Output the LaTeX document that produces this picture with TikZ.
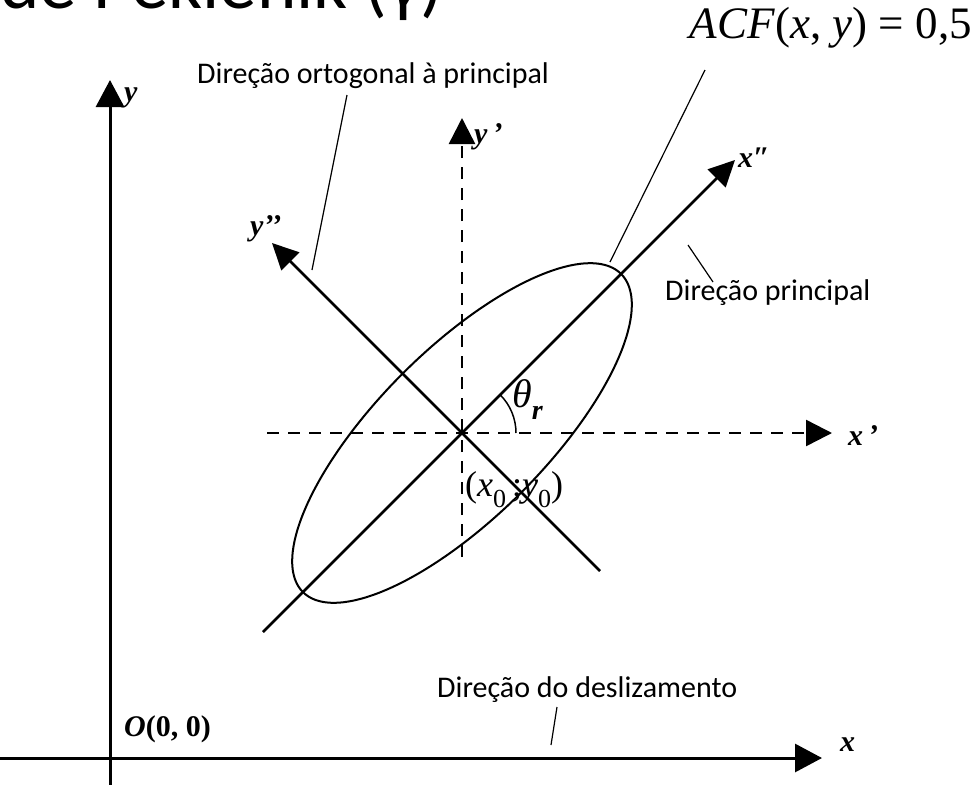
\documentclass[tikz,border=0pt]{standalone}
\usepackage{fontspec}
\usetikzlibrary{arrows.meta}
\newfontfamily\calib{Carlito}
\newfontfamily\tms{Liberation Serif}
\begin{document}
\begin{tikzpicture}[x=1pt,y=-1pt,
  axis/.style={line width=3pt,-{Triangle[length=27pt,width=28pt]}},
  daxis/.style={line width=2.5pt,dash pattern=on 12pt off 9pt,-{Triangle[length=26pt,width=26pt]}},
  raxis/.style={line width=2.5pt,-{Triangle[length=26pt,width=25pt]}},
  leader/.style={line width=1.2pt},
  lab/.style={inner sep=0pt,font=\tms\bfseries\itshape\fontsize{30}{34}\selectfont},
  note/.style={inner sep=0pt,font=\calib\fontsize{30}{34}\selectfont}]
\useasboundingbox (0,0) rectangle (978,785);
\begin{scope}
\clip (0,0) rectangle (978,785);
\node[anchor=base west,inner sep=0pt,font=\calib\fontsize{75}{80}\selectfont] (title) at (0,8) {de Peklenik (γ)};
\coordinate (C) at (462,433);
% main axes
\coordinate (yb) at (110,795);
\coordinate (yt) at (110,80);
\coordinate (xl) at (-5,758);
\coordinate (xr) at (822,758);
\draw[axis] (yb) -- (yt);
\draw[axis] (xl) -- (xr);
\node[lab,anchor=south west] (ylab) at (124,108) {y};
\node[lab,anchor=west] (xlab) at (840,745) {x};
\node[lab,anchor=base west] (olab) at (124,736) {O\upshape(0, 0)};
% dashed axes
\coordinate (ypb) at (462,557);
\coordinate (ypt) at (462,118);
\coordinate (xpl) at (267,433);
\coordinate (xpr) at (832,433);
\draw[daxis] (ypb) -- (ypt);
\draw[daxis] (xpl) -- (xpr);
\node[lab,anchor=south west] (yplab) at (474,150) {y\,’};
\node[lab,anchor=west] (xplab) at (848,436) {x\,’};
% rotated axes
\coordinate (xppb) at (263,632);
\coordinate (xppt) at (735,160);
\coordinate (yppb) at (600,571);
\coordinate (yppt) at (272,243);
\draw[raxis] (xppb) -- (xppt);
\draw[raxis] (yppb) -- (yppt);
\node[lab,anchor=south west] (xpplab) at (738,168) {x″};
\node[lab,anchor=south west] (ypplab) at (250,242) {y’’};
% ellipse
\draw[line width=2pt] plot[smooth cycle,domain=0:355,samples=72,variable=\t]
  ({462+0.7071*(225*cos(\t)-84*sin(\t))},{433-0.7071*(225*cos(\t)+84*sin(\t))});
% angle
\coordinate (a0) at (516,433);
\draw[line width=1.5pt] (a0) arc[start angle=0,end angle=-45,radius=54];
\node[inner sep=0pt,anchor=west,font=\tms\itshape\fontsize{40}{42}\selectfont] (theta) at (512,400) {θ\raisebox{-0.3em}{\bfseries\fontsize{28}{30}\selectfont r}};
\node[inner sep=0pt,anchor=west,font=\tms\fontsize{36}{40}\selectfont] (center) at (465,490) {(\textit{x}\raisebox{-0.3em}{\fontsize{26}{28}\selectfont 0}\,;\textit{y}\raisebox{-0.3em}{\fontsize{26}{28}\selectfont 0})};
% notes
\node[note,anchor=west] (ortho) at (197,76) {Direção ortogonal à principal};
\coordinate (l1a) at (347,95);
\coordinate (l1b) at (312,270);
\draw[leader] (l1a) -- (l1b);
\node[inner sep=0pt,anchor=east,font=\tms\fontsize{45}{48}\selectfont] (acf) at (972,28) {\textit{ACF}(\textit{x}, \textit{y}) = 0,5};
\coordinate (l2a) at (705,70);
\coordinate (l2b) at (610,262);
\draw[leader] (l2a) -- (l2b);
\node[note,anchor=west] (princ) at (665,293) {Direção principal};
\coordinate (l3a) at (688,245);
\coordinate (l3b) at (713,282);
\draw[leader] (l3a) -- (l3b);
\node[note,anchor=west] (desl) at (437,690) {Direção do deslizamento};
\coordinate (l4a) at (557,707);
\coordinate (l4b) at (551,745);
\draw[leader] (l4a) -- (l4b);
\end{scope}
\end{tikzpicture}
\end{document}
